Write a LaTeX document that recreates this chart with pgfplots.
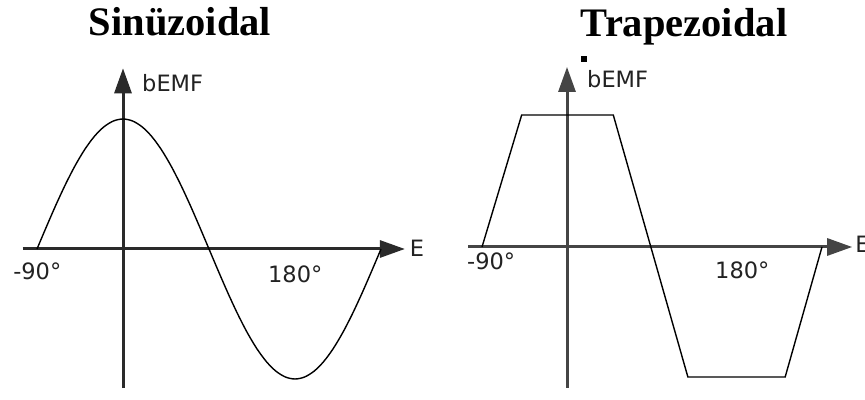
\documentclass[border=0pt]{standalone}
\usepackage{fontspec}
\setmainfont{Liberation Serif}
\newfontfamily\dv{DejaVu Sans}
\usepackage{pgfplots}
\pgfplotsset{compat=1.18}
\usetikzlibrary{arrows.meta}
\definecolor{axL}{HTML}{2A2A2A}
\definecolor{axR}{HTML}{454545}
\definecolor{txt}{HTML}{222222}
\tikzset{
  lbl/.style={inner sep=0pt, anchor=base west, text=txt, font=\dv\fontsize{22.5bp}{22.5bp}\selectfont},
  ttl/.style={inner sep=0pt, anchor=base, font=\bfseries\fontsize{40.5bp}{40.5bp}\selectfont},
}
\pgfplotsset{
  common/.style={
    scale only axis, clip=false,
    axis lines=middle,
    xtick=\empty, ytick=\empty,
    anchor=origin,
  },
}
\begin{document}
\begin{tikzpicture}[x=1bp,y=1bp]
% ---- Left: sinusoidal ----
\begin{axis}[common,
  at={(123bp,151bp)},
  x=0.9556bp, y=130bp,
  xmin=-105, xmax=295, ymin=-1.07, ymax=1.39,
  axis line style={line width=3bp, color=axL, -{Triangle[length=25bp,width=17bp]}},
]
\addplot[smooth, line width=1.4bp, color=black] coordinates {
(-90,0) (-80,0.1736) (-70,0.3420) (-60,0.5) (-50,0.6428) (-40,0.7660) (-30,0.8660) (-20,0.9397) (-10,0.9848)
(0,1) (10,0.9848) (20,0.9397) (30,0.8660) (40,0.7660) (50,0.6428) (60,0.5) (70,0.3420) (80,0.1736)
(90,0) (100,-0.1736) (110,-0.3420) (120,-0.5) (130,-0.6428) (140,-0.7660) (150,-0.8660) (160,-0.9397) (170,-0.9848)
(180,-1) (190,-0.9848) (200,-0.9397) (210,-0.8660) (220,-0.7660) (230,-0.6428) (240,-0.5) (250,-0.3420) (260,-0.1736) (270,0)
};
\node[ttl] at (axis cs:59.6,1.646) {Sinüzoidal};
\node[lbl] at (axis cs:19.9,1.208) {bEMF};
\node[lbl] at (axis cs:300,-0.06) {E};
\node[lbl] at (axis cs:-115,-0.238) {-90°};
\node[lbl] at (axis cs:151.7,-0.254) {180°};
\end{axis}
% ---- Right: trapezoidal ----
\begin{axis}[common,
  at={(567bp,153bp)},
  x=0.9444bp, y=132bp,
  xmin=-104.8, xmax=302, ymin=-1.068, ymax=1.364,
  axis line style={line width=3bp, color=axR, -{Triangle[length=25bp,width=17bp]}},
]
\addplot[line width=1.4bp, color=black] coordinates {
(-90,0) (-48,1.0) (49,1.0) (128,-0.985) (231,-0.985) (270,0)
};
\addplot[only marks, mark=square*, mark size=2.5bp, color=black] coordinates {(18,1.43)};
\node[ttl] at (axis cs:124,1.598) {Trapezoidal};
\node[lbl] at (axis cs:21.2,1.205) {bEMF};
\node[lbl] at (axis cs:305,-0.045) {E};
\node[lbl] at (axis cs:-105.9,-0.174) {-90°};
\node[lbl] at (axis cs:156.7,-0.235) {180°};
\end{axis}
\pgfresetboundingbox
\useasboundingbox (0bp,0bp) rectangle (865bp,400bp);
\end{tikzpicture}
\end{document}
